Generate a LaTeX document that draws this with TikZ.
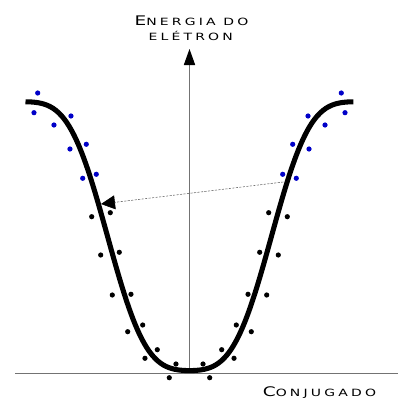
\documentclass[tikz,border=0pt]{standalone}
\usepackage{fontspec}
\usetikzlibrary{arrows.meta}
\newfontfamily\rotfont[FakeStretch=1.4,LetterSpace=32]{DejaVu Sans}
\newcommand{\capsc}[2]{{\fontsize{9.4}{10}\selectfont #1}{\fontsize{7.1}{8}\selectfont #2}}
\definecolor{azul}{RGB}{0,0,200}

\begin{document}
\begin{tikzpicture}[>=Stealth,
    eixo/.style={draw=black!55,line width=0.7pt},
    curva/.style={line width=3.6pt},
    seta/.style={draw=black!60,line width=0.4pt,dash pattern=on 1.5pt off 1pt},
    rotulo/.style={font=\rotfont,inner sep=0pt,anchor=base}]
  \useasboundingbox (-4.7375,-0.65) rectangle (5.2375,9.325);
  % eixos
  \coordinate (origem) at (0,0);
  \coordinate (topo) at (0,8.1);
  \coordinate (esq) at (-4.36,0);
  \coordinate (dir) at (5.21,0);
  \draw[eixo] (esq) -- (dir);
  \draw[eixo,-{Triangle[length=0.4cm,width=0.28cm,black]}] (origem) -- (topo);
  \node[rotulo] (energia) at (0.05,8.7) {\capsc{E}{NERGIA DO}};
  \node[rotulo] (eletron) at (0.03,8.31) {\capsc{}{ELÉTRON}};
  \node[rotulo] (conj) at (3.25,-0.59) {\capsc{C}{ONJUGADO}};
  % banda
  \draw[curva] plot[domain=-4.1:4.1,samples=120,smooth]
    (\x,{0.06+6.72*(0.2*((1-cos(180*\x/4.1))/2)+0.8*(3*((1-cos(180*\x/4.1))/2)^2-2*((1-cos(180*\x/4.1))/2)^3))});
  % pontos
  \foreach \x/\y in {3.795/7.0, 3.888/6.508, 2.963/6.425, 3.388/6.2,
                     2.58/5.718, 2.988/5.6, 2.33/4.968, 2.67/4.868} {
    \fill[azul] (-\x,\y) circle[radius=0.065];
    \fill[azul] (\x,\y) circle[radius=0.065];
  }
  \foreach \x/\y in {1.98/4.008, 2.445/3.908, 1.755/3.018, 2.22/2.95,
                     1.463/1.968, 1.93/1.95, 1.17/1.2, 1.545/1.033,
                     0.805/0.583, 1.113/0.368, 0.338/0.225, 0.505/-0.118} {
    \fill (-\x,\y) circle[radius=0.065];
    \fill (\x,\y) circle[radius=0.065];
  }
  % seta tracejada
  \coordinate (de) at (2.345,4.775);
  \coordinate (para) at (-2.2125,4.225);
  \draw[seta,-{Triangle[length=0.35cm,width=0.35cm,black]}] (de) -- (para);
\end{tikzpicture}
\end{document}
